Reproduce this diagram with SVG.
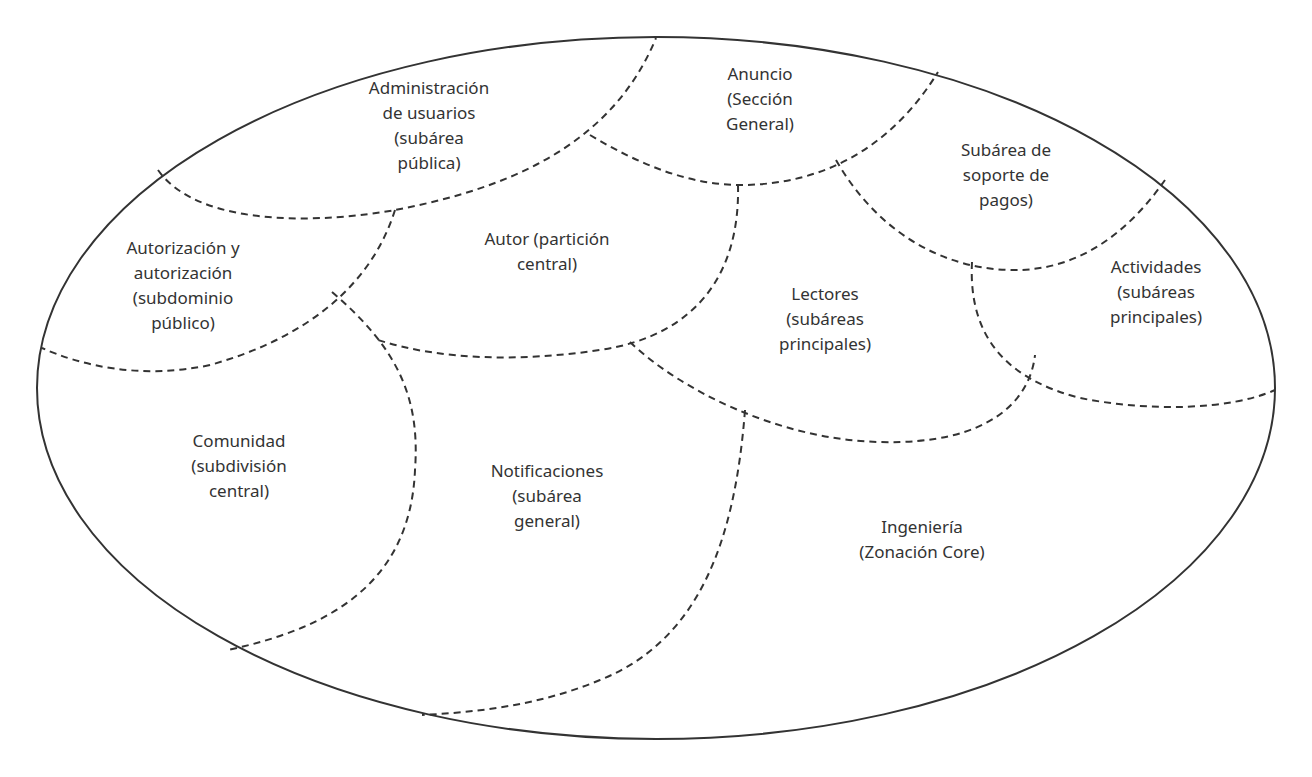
<svg xmlns="http://www.w3.org/2000/svg" width="1312" height="777" viewBox="0 0 1312 777">
<style>
.d{fill:none;stroke:#333;stroke-width:2;stroke-dasharray:7,5}
text{font-family:"Noto Sans","Open Sans",sans-serif;font-size:17px;fill:#333;text-anchor:middle}
</style>
<rect width="1312" height="777" fill="#fff"/>
<ellipse cx="656" cy="388" rx="619" ry="351" fill="none" stroke="#333" stroke-width="2"/>
<g id="connectors">
<path class="d" d="M158,170 C200,230 330,222 395,210 C500,190 610,150 656,38"/>
<path class="d" d="M590,135 C640,165 690,185 740,185 C820,185 890,150 938,72"/>
<path class="d" d="M395,210 C370,290 300,340 210,365 C140,380 80,365 42,348"/>
<path class="d" d="M738,185 C740,270 700,335 600,350 C520,362 440,360 378,340"/>
<path class="d" d="M836,160 C870,220 930,268 1010,270 C1080,272 1130,230 1165,180"/>
<path class="d" d="M972,262 C968,340 1010,380 1080,398 C1150,412 1230,410 1275,390"/>
<path class="d" d="M630,342 C680,390 780,440 880,442 C990,445 1030,400 1035,355"/>
<path class="d" d="M332,292 C400,350 420,400 415,470 C410,590 320,630 228,650"/>
<path class="d" d="M745,410 C735,540 700,640 600,680 C540,705 480,712 422,715"/>
</g>
<g id="n1"><text x="429" y="94">Administración</text><text x="429" y="119">de usuarios</text><text x="429" y="144">(subárea</text><text x="429" y="169">pública)</text></g>
<g id="n2"><text x="760" y="80">Anuncio</text><text x="760" y="105">(Sección</text><text x="760" y="130">General)</text></g>
<g id="n3"><text x="1006" y="156">Subárea de</text><text x="1006" y="181">soporte de</text><text x="1006" y="206">pagos)</text></g>
<g id="n4"><text x="183" y="254">Autorización y</text><text x="183" y="279">autorización</text><text x="183" y="304">(subdominio</text><text x="183" y="329">público)</text></g>
<g id="n5"><text x="547" y="245">Autor (partición</text><text x="547" y="270">central)</text></g>
<g id="n6"><text x="1156" y="273">Actividades</text><text x="1156" y="298">(subáreas</text><text x="1156" y="323">principales)</text></g>
<g id="n7"><text x="825" y="300">Lectores</text><text x="825" y="325">(subáreas</text><text x="825" y="350">principales)</text></g>
<g id="n8"><text x="239" y="447">Comunidad</text><text x="239" y="472">(subdivisión</text><text x="239" y="497">central)</text></g>
<g id="n9"><text x="547" y="477">Notificaciones</text><text x="547" y="502">(subárea</text><text x="547" y="527">general)</text></g>
<g id="n10"><text x="922" y="533">Ingeniería</text><text x="922" y="558">(Zonación Core)</text></g>
</svg>
